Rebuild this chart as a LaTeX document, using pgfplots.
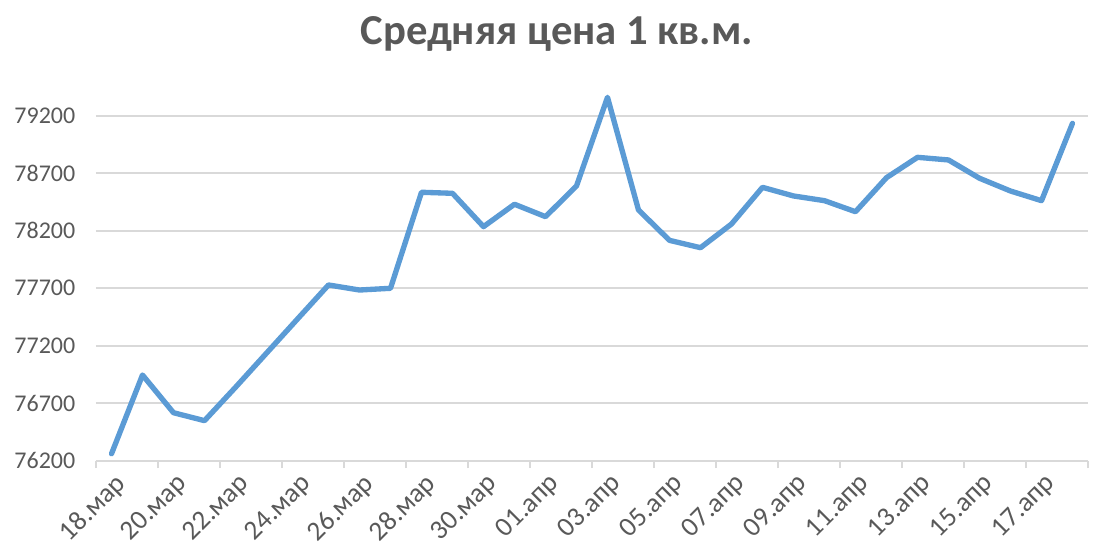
\documentclass[border=0pt]{standalone}
\usepackage{pgfplots}
\pgfplotsset{compat=1.18}
\usepackage{fontspec}
\setmainfont{Carlito}
\definecolor{linebl}{HTML}{5B9BD5}
\definecolor{gridgr}{HTML}{D9D9D9}
\definecolor{txtgr}{HTML}{595959}

\begin{document}
\begin{tikzpicture}
\begin{axis}[
  at={(0,0)}, anchor=south west,
  scale only axis,
  width=744pt, height=277.7pt,
  xmin=-0.5, xmax=31.5,
  ymin=76200, ymax=79420,
  ytick={76200,76700,...,79200},
  scaled y ticks=false,
  ymajorgrids,
  grid style={gridgr, line width=1.5pt},
  axis line style={draw=none},
  axis x line*=bottom,
  axis y line*=left,
  xtick={0,2,...,30},
  xticklabels={18.мар,20.мар,22.мар,24.мар,26.мар,28.мар,30.мар,01.апр,03.апр,05.апр,07.апр,09.апр,11.апр,13.апр,15.апр,17.апр},
  major tick length=0pt,
  extra x ticks={-0.5,1.5,...,31.5},
  extra x tick labels={},
  extra x tick style={major tick length=5.5pt, tick style={gridgr, line width=1.5pt}, tick align=outside, grid=none},
  /pgf/number format/assume math mode=true,
  /pgf/number format/set thousands separator={},
  yticklabel style={font=\fontsize{18}{20}\selectfont, text=txtgr, xshift=-12pt},
  xticklabel style={font=\fontsize{20.5}{22}\selectfont, text=txtgr, rotate=45, anchor=north east, xshift=-1.5pt, yshift=-3.5pt},
  title={\bfseries Средняя цена 1 кв.м.},
  title style={font=\fontsize{32}{34}\selectfont, text=txtgr, at={(rel axis cs:0.4647,1.13)}, anchor=center},
  clip=false,
]
\addplot[linebl, line width=4pt, line join=round, line cap=round] coordinates {
  (0,76260) (1,76945) (2,76617) (3,76548) (4,76838) (5,77135) (6,77432) (7,77728)
  (8,77684) (9,77699) (10,78534) (11,78525) (12,78235) (13,78430) (14,78322) (15,78589)
  (16,79360) (17,78380) (18,78116) (19,78052) (20,78258) (21,78577) (22,78502) (23,78461)
  (24,78365) (25,78661) (26,78838) (27,78815) (28,78656) (29,78545) (30,78461) (31,79134)
};
\draw[gridgr, line width=1.5pt] (rel axis cs:0,0) -- (rel axis cs:1,0);
\end{axis}
\pgfresetboundingbox
\path[use as bounding box] (-72pt,-70pt) rectangle (765pt,345.5pt);
\end{tikzpicture}
\end{document}
